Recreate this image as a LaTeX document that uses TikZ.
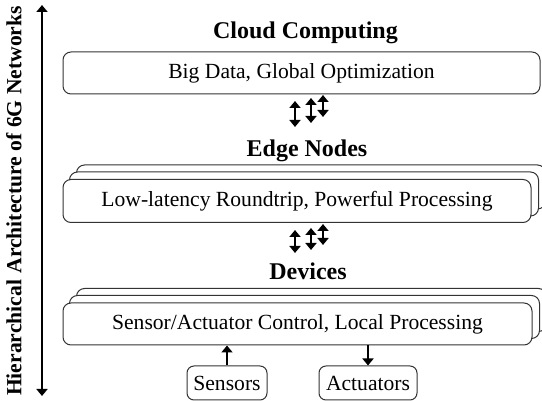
\documentclass[tikz,border=0pt]{standalone}
\usepackage{fontspec}
\setmainfont{Liberation Serif}
\usetikzlibrary{arrows.meta,backgrounds}
\begin{document}
\begin{tikzpicture}[x=0.5pt,y=-0.5pt,
  layerbox/.style={draw=black!80,line width=0.5pt,rounded corners=4pt,fill=white,
    inner sep=0pt,font=\fontsize{10.8}{12}\selectfont},
  smallbox/.style={draw=black!80,line width=0.5pt,rounded corners=3.5pt,fill=white,
    inner sep=2pt,minimum height=17pt,font=\fontsize{10.8}{12}\selectfont},
  layertitle/.style={font=\fontsize{12}{14}\selectfont\bfseries,inner sep=0pt},
  shadowbox/.style={draw=black!80,line width=0.5pt,rounded corners=4pt,fill=white},
  thickarrow/.style={line width=1.3pt,-{Triangle[length=3.5pt,width=5.5pt]}},
  dblarrow/.style={line width=1.3pt,{Triangle[length=3.5pt,width=5.5pt]}-{Triangle[length=3.5pt,width=5.5pt]}}]
\useasboundingbox (0,0) rectangle (542,401);

% titles
\node[layertitle] (tcloud) at (305.5,33) {Cloud Computing};
\node[layertitle] (tedge) at (307,151) {Edge Nodes};
\node[layertitle] (tdev) at (308,271) {Devices};

% layer boxes
\node[layerbox,minimum width=238.5pt,minimum height=21pt] (cloud) at (301.5,73) {Big Data, Global Optimization};
\node[layerbox,minimum width=234pt,minimum height=21.5pt] (edge) at (297,201) {Low-latency Roundtrip, Powerful Processing};
\node[layerbox,minimum width=234.5pt,minimum height=21pt] (dev) at (297.5,324) {Sensor/Actuator Control, Local Processing};

\begin{scope}[on background layer]
  \foreach \n in {edge,dev}{
    \draw[shadowbox] ([shift={(14,-14)}]\n.south west) rectangle ([shift={(14,-14)}]\n.north east);
    \draw[shadowbox] ([shift={(7,-7)}]\n.south west) rectangle ([shift={(7,-7)}]\n.north east);
  }
\end{scope}

% sensors / actuators
\node[smallbox,minimum width=40pt] (sensors) at (227,383) {Sensors};
\node[smallbox,minimum width=49pt] (actuators) at (368,383) {Actuators};
\draw[thickarrow] (sensors.north) -- (sensors.north |- dev.south);
\draw[thickarrow] (actuators.north |- dev.south) -- (actuators.north);

% triple arrows cloud <-> edge
\coordinate (a1t) at (295,101); \coordinate (a1b) at (295,127);
\coordinate (a2t) at (311,98);  \coordinate (a2b) at (311,123);
\coordinate (a3t) at (323,95);  \coordinate (a3b) at (323,117);
\draw[dblarrow] (a1t) -- (a1b);
\draw[dblarrow] (a2t) -- (a2b);
\draw[dblarrow] (a3t) -- (a3b);

% triple arrows edge <-> devices
\coordinate (b1t) at (295,230); \coordinate (b1b) at (295,253);
\coordinate (b2t) at (311,228); \coordinate (b2b) at (311,250);
\coordinate (b3t) at (323,224); \coordinate (b3b) at (323,245);
\draw[dblarrow] (b1t) -- (b1b);
\draw[dblarrow] (b2t) -- (b2b);
\draw[dblarrow] (b3t) -- (b3b);

% vertical axis
\coordinate (axtop) at (42,5);
\coordinate (axbot) at (42,396);
\draw[dblarrow] (axtop) -- (axbot);
\node[rotate=90,font=\fontsize{10.8}{12}\selectfont\bfseries,inner sep=0pt] (axlabel) at (14,201)
  {Hierarchical\hspace{0.3em}Architecture of 6G Networks};
\end{tikzpicture}
\end{document}
